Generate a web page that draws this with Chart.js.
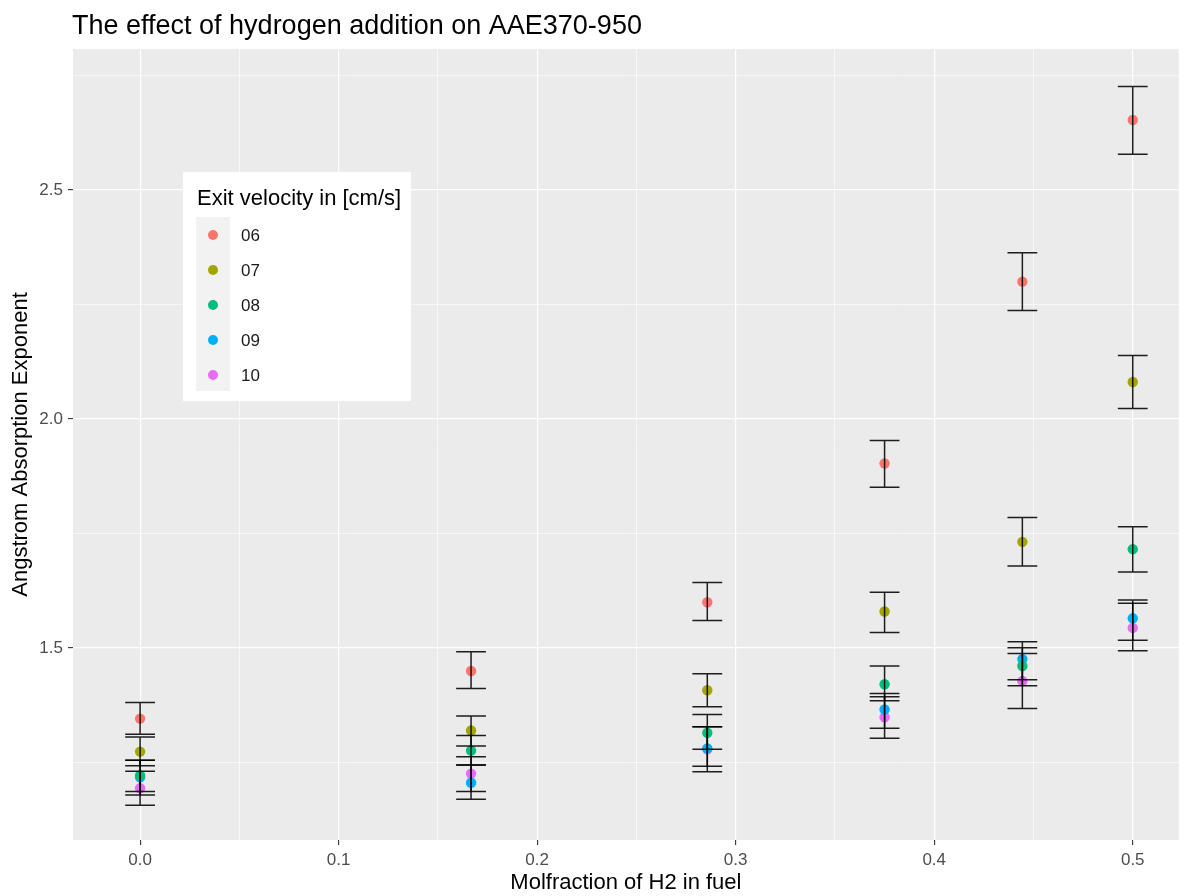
<!DOCTYPE html>
<html>
<head>
<meta charset="utf-8">
<title>AAE370-950 vs hydrogen molfraction</title>
<script src="https://cdn.jsdelivr.net/npm/chart.js@4"></script>
<style>
  html, body { margin: 0; padding: 0; background: #fff; }
  #wrap { width: 1184px; height: 896px; position: relative; }
</style>
</head>
<body>
<div id="wrap"><canvas id="chart"></canvas></div>
<script>
/* AAE370-950 vs H2 molfraction — ggplot-style scatter with error bars */

// ── Data ─────────────────────────────────────────────────────────────────────

const molfrac = [0, 0.1667, 0.2857, 0.375, 0.4444, 0.5];

const series_labels = ['06', '07', '08', '09', '10'];
const series_colors = ['#F8766D', '#A3A500', '#00BF7D', '#00B0F6', '#E76BF3'];

const aae_06 = [1.346, 1.450, 1.600, 1.903, 2.300, 2.653];
const lo_06  = [1.312, 1.412, 1.560, 1.851, 2.237, 2.578];
const hi_06  = [1.381, 1.492, 1.643, 1.953, 2.363, 2.726];

const aae_07 = [1.274, 1.320, 1.408, 1.580, 1.732, 2.081];
const lo_07  = [1.243, 1.286, 1.372, 1.534, 1.679, 2.023];
const hi_07  = [1.306, 1.352, 1.444, 1.622, 1.785, 2.139];

const aae_08 = [1.222, 1.276, 1.315, 1.421, 1.461, 1.716];
const lo_08  = [1.187, 1.245, 1.279, 1.385, 1.418, 1.666];
const hi_08  = [1.255, 1.309, 1.355, 1.461, 1.501, 1.765];

const aae_09 = [1.218, 1.206, 1.281, 1.366, 1.476, 1.565];
const lo_09  = [1.179, 1.170, 1.242, 1.325, 1.431, 1.517];
const hi_09  = [1.255, 1.245, 1.328, 1.401, 1.514, 1.605];

const aae_10 = [1.194, 1.226, 1.279, 1.349, 1.428, 1.544];
const lo_10  = [1.157, 1.187, 1.230, 1.303, 1.368, 1.494];
const hi_10  = [1.231, 1.263, 1.328, 1.394, 1.488, 1.598];

const x_ticks = [0, 0.05, 0.1, 0.15, 0.2, 0.25, 0.3, 0.35, 0.4, 0.45, 0.5];
const x_tick_labels = ['0.0', '', '0.1', '', '0.2', '', '0.3', '', '0.4', '', '0.5'];
const y_ticks = [1.25, 1.5, 1.75, 2.0, 2.25, 2.5, 2.75];
const y_tick_labels = ['', '1.5', '', '2.0', '', '2.5', ''];

const means = [aae_06, aae_07, aae_08, aae_09, aae_10];
const lows  = [lo_06, lo_07, lo_08, lo_09, lo_10];
const highs = [hi_06, hi_07, hi_08, hi_09, hi_10];

// ── Style ────────────────────────────────────────────────────────────────────

const FONT = '"Liberation Sans", Arial, sans-serif';
const PANEL_BG = '#EBEBEB';
const ERR_HALF_W = 0.0075;   // half cap width in x data units

function is_major(list, labels, v) {
  const i = list.findIndex(t => Math.abs(t - v) < 1e-9);
  return i >= 0 && labels[i] !== '';
}

// ── Plugins ──────────────────────────────────────────────────────────────────

const panel_bg = {
  id: 'panel_bg',
  beforeDraw(chart) {
    const { ctx, chartArea: a } = chart;
    ctx.save();
    ctx.fillStyle = PANEL_BG;
    ctx.fillRect(a.left, a.top, a.right - a.left, a.bottom - a.top);
    ctx.restore();
  },
};

const error_bars = {
  id: 'error_bars',
  afterDatasetsDraw(chart) {
    const { ctx, scales: { x, y } } = chart;
    ctx.save();
    ctx.strokeStyle = 'rgba(0,0,0,0.88)';
    ctx.lineWidth = 1.5;
    lows.forEach((lo, s) => {
      lo.forEach((l, i) => {
        const h = highs[s][i];
        const px = x.getPixelForValue(molfrac[i]);
        const x0 = x.getPixelForValue(molfrac[i] - ERR_HALF_W);
        const x1 = x.getPixelForValue(molfrac[i] + ERR_HALF_W);
        const py0 = y.getPixelForValue(l);
        const py1 = y.getPixelForValue(h);
        ctx.beginPath();
        ctx.moveTo(px, py0); ctx.lineTo(px, py1);
        ctx.moveTo(x0, py0); ctx.lineTo(x1, py0);
        ctx.moveTo(x0, py1); ctx.lineTo(x1, py1);
        ctx.stroke();
      });
    });
    ctx.restore();
  },
};

const title_and_legend = {
  id: 'title_and_legend',
  afterDraw(chart) {
    const { ctx, chartArea: a } = chart;
    ctx.save();
    // title
    ctx.fillStyle = '#000';
    ctx.font = '27px ' + FONT;
    ctx.textBaseline = 'alphabetic';
    ctx.textAlign = 'left';
    ctx.fillText('The effect of hydrogen addition on AAE370-950', a.left - 1, 34);

    // legend box
    ctx.fillStyle = '#fff';
    ctx.fillRect(183, 172, 228, 229);
    ctx.fillStyle = '#000';
    ctx.font = '22px ' + FONT;
    ctx.fillText('Exit velocity in [cm/s]', 197, 205);
    ctx.fillStyle = '#F2F2F2';
    ctx.fillRect(196, 217, 34, 174);
    ctx.font = '17px ' + FONT;
    ctx.textBaseline = 'middle';
    series_labels.forEach((lab, i) => {
      const cy = 235 + i * 35;
      ctx.fillStyle = series_colors[i];
      ctx.beginPath();
      ctx.arc(213, cy, 5, 0, Math.PI * 2);
      ctx.fill();
      ctx.fillStyle = '#1a1a1a';
      ctx.fillText(lab, 241, cy + 1);
    });
    ctx.restore();
  },
};

// ── Chart ────────────────────────────────────────────────────────────────────

const datasets = means.map((m, s) => ({
  label: series_labels[s],
  data: m.map((v, i) => ({ x: molfrac[i], y: v })),
  backgroundColor: series_colors[s],
  borderColor: series_colors[s],
  borderWidth: 0,
  pointRadius: 5.2,
  pointHoverRadius: 5.2,
}));

new Chart(document.getElementById('chart'), {
  type: 'scatter',
  data: { datasets },
  plugins: [panel_bg, error_bars, title_and_legend],
  options: {
    responsive: true,
    maintainAspectRatio: false,
    animation: false,
    layout: { padding: { top: 49, right: 0, bottom: 0, left: 0 } },
    plugins: {
      legend: { display: false },
      tooltip: { enabled: false },
    },
    scales: {
      x: {
        type: 'linear',
        min: -0.0338,
        max: 0.5232,
        afterBuildTicks: s => { s.ticks = x_ticks.map(v => ({ value: v })); },
        afterFit: s => { s.height = 56; },
        border: { display: false },
        grid: {
          color: '#fff',
          lineWidth: c => is_major(x_ticks, x_tick_labels, c.tick.value) ? 1.2 : 0.6,
          drawTicks: true,
          tickLength: 5,
          tickWidth: 1.1,
          tickColor: c => is_major(x_ticks, x_tick_labels, c.tick.value) ? '#333333' : 'rgba(0,0,0,0)',
        },
        ticks: {
          autoSkip: false,
          maxRotation: 0,
          padding: 5,
          color: '#4D4D4D',
          font: { family: FONT, size: 17 },
          callback: (v, i) => x_tick_labels[i],
        },
        title: {
          display: true,
          text: 'Molfraction of H2 in fuel',
          color: '#000',
          font: { family: FONT, size: 22 },
          padding: { top: 0, bottom: 0 },
        },
      },
      y: {
        type: 'linear',
        min: 1.081,
        max: 2.808,
        afterBuildTicks: s => { s.ticks = y_ticks.map(v => ({ value: v })); },
        afterFit: s => { s.width = 73; },
        border: { display: false },
        grid: {
          color: '#fff',
          lineWidth: c => is_major(y_ticks, y_tick_labels, c.tick.value) ? 1.2 : 0.6,
          drawTicks: true,
          tickLength: 5,
          tickWidth: 1.1,
          tickColor: c => is_major(y_ticks, y_tick_labels, c.tick.value) ? '#333333' : 'rgba(0,0,0,0)',
        },
        ticks: {
          autoSkip: false,
          padding: 5,
          color: '#4D4D4D',
          font: { family: FONT, size: 17 },
          callback: (v, i) => y_tick_labels[i],
        },
        title: {
          display: true,
          text: 'Angstrom Absorption Exponent',
          color: '#000',
          font: { family: FONT, size: 22 },
          padding: { top: 8, bottom: 0 },
        },
      },
    },
  },
});
</script>
</body>
</html>
